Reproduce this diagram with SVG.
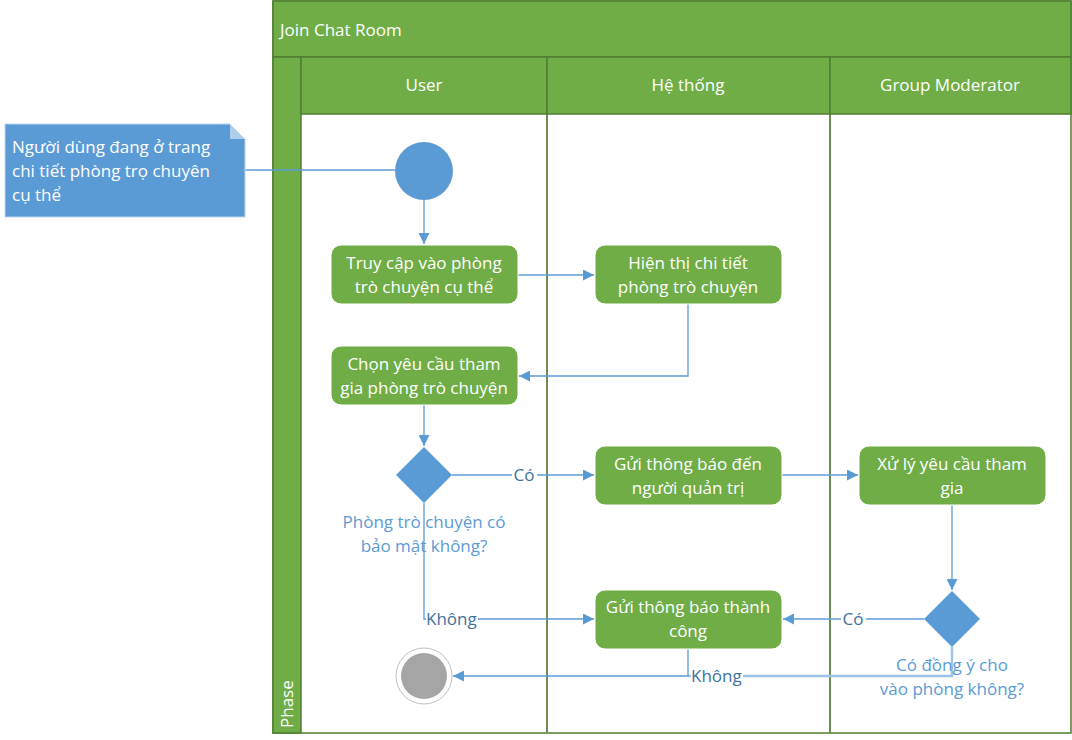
<svg xmlns="http://www.w3.org/2000/svg" width="1072" height="740" viewBox="0 0 1072 740">
<defs>
<style>
.t{font-family:"Open Sans","Liberation Sans",sans-serif;font-size:17px;}
.w{fill:#ffffff;}
.c{text-anchor:middle;}
.bl{fill:#5b9bd5;}
.lb{fill:#41719c;}
.box{fill:#70ad47;stroke:#ffffff;stroke-width:1;}
.hdr{fill:#70ad47;stroke:#507e32;stroke-width:1.5;}
.ln{fill:none;stroke:#5b9bd5;stroke-width:1.3;}
.lnt{fill:none;stroke:#9dc3e6;stroke-width:2.5;}
</style>
<marker id="ah" viewBox="0 0 10 10" refX="10" refY="5" markerWidth="11" markerHeight="11" markerUnits="userSpaceOnUse" orient="auto">
<path d="M0,0 L10,5 L0,10 z" fill="#5b9bd5"/>
</marker>
</defs>
<rect width="1072" height="740" fill="#ffffff"/>

<g id="pool">
<rect x="273" y="1" width="798" height="732" fill="#ffffff" stroke="#507e32" stroke-width="1.5"/>
<rect class="hdr" x="273" y="1" width="798" height="56"/>
<text class="t w" x="280" y="36">Join Chat Room</text>
<rect class="hdr" x="273" y="57" width="28" height="676"/>
<text class="t w" transform="translate(293,728) rotate(-90)">Phase</text>
</g>

<g id="lane-user">
<rect class="hdr" x="301" y="57" width="246" height="57"/>
<text class="t w c" x="424" y="91">User</text>
<line x1="547" y1="114" x2="547" y2="733" stroke="#6b8f4e" stroke-width="2"/>
</g>
<g id="lane-system">
<rect class="hdr" x="547" y="57" width="283" height="57"/>
<text class="t w c" x="688" y="91">Hệ thống</text>
<line x1="830" y1="114" x2="830" y2="733" stroke="#6b8f4e" stroke-width="2"/>
</g>
<g id="lane-moderator">
<rect class="hdr" x="830" y="57" width="241" height="57"/>
<text class="t w c" x="950" y="91">Group Moderator</text>
</g>

<g id="connectors">
<line class="ln" x1="245" y1="170" x2="395" y2="170"/>
<line class="ln" x1="424" y1="200" x2="424" y2="244" marker-end="url(#ah)"/>
<line class="ln" x1="518" y1="275" x2="594" y2="275" marker-end="url(#ah)"/>
<polyline class="ln" points="688,304 688,376 519,376" marker-end="url(#ah)"/>
<line class="ln" x1="424" y1="405" x2="424" y2="446" marker-end="url(#ah)"/>
<line class="ln" x1="452" y1="475" x2="594" y2="475" marker-end="url(#ah)"/>
<line class="ln" x1="782" y1="475" x2="858" y2="475" marker-end="url(#ah)"/>
<line class="ln" x1="952" y1="505" x2="952" y2="590" marker-end="url(#ah)"/>
<line class="ln" x1="924" y1="619" x2="783" y2="619" marker-end="url(#ah)"/>
<polyline class="ln" points="424,503 424,619 594,619" marker-end="url(#ah)"/>
<polyline class="lnt" points="952,647 952,676 688,676"/>
<polyline class="ln" points="688,649 688,676 453,676" marker-end="url(#ah)"/>
<rect x="512" y="464" width="25" height="21" fill="#ffffff"/>
<text class="t lb c" x="524" y="481">Có</text>
<rect x="841" y="608" width="25" height="21" fill="#ffffff"/>
<text class="t lb c" x="853" y="625">Có</text>
<rect x="426" y="608" width="52" height="21" fill="#ffffff"/>
<text class="t lb" x="426" y="625">Không</text>
<rect x="691" y="665" width="52" height="22" fill="#ffffff"/>
<text class="t lb" x="691" y="682">Không</text>
</g>

<g id="note">
<path d="M5,124 L230,124 L245,139 L245,217 L5,217 Z" fill="#5b9bd5" stroke="#bdd7ee" stroke-width="1"/>
<path d="M230,124 L245,139 L230,139 Z" fill="#ffffff" opacity="0.5"/>
<text class="t w" x="12" y="153">Người dùng đang ở trang</text>
<text class="t w" x="12" y="177">chi tiết phòng trọ chuyên</text>
<text class="t w" x="12" y="201">cụ thể</text>
</g>

<g id="start">
<circle cx="424" cy="171" r="29" fill="#5b9bd5"/>
</g>

<g id="n1">
<rect class="box" x="331" y="245" width="187" height="59" rx="10"/>
<text class="t w c" x="424" y="269">Truy cập vào phòng</text>
<text class="t w c" x="424" y="293">trò chuyện cụ thể</text>
</g>
<g id="n2">
<rect class="box" x="595" y="245" width="187" height="59" rx="10"/>
<text class="t w c" x="688" y="269">Hiện thị chi tiết</text>
<text class="t w c" x="688" y="293">phòng trò chuyện</text>
</g>
<g id="n3">
<rect class="box" x="331" y="346" width="187" height="59" rx="10"/>
<text class="t w c" x="424" y="370">Chọn yêu cầu tham</text>
<text class="t w c" x="424" y="394">gia phòng trò chuyện</text>
</g>
<g id="d1">
<polygon points="396,475 424,447 452,475 424,503" fill="#5b9bd5"/>
<text class="t bl c" x="424" y="528">Phòng trò chuyện có</text>
<text class="t bl c" x="424" y="552">bảo mật không?</text>
</g>
<g id="n4">
<rect class="box" x="595" y="446" width="187" height="59" rx="10"/>
<text class="t w c" x="688" y="470">Gửi thông báo đến</text>
<text class="t w c" x="688" y="494">người quản trị</text>
</g>
<g id="n5">
<rect class="box" x="859" y="446" width="187" height="59" rx="10"/>
<text class="t w c" x="952" y="470">Xử lý yêu cầu tham</text>
<text class="t w c" x="952" y="494">gia</text>
</g>
<g id="d2">
<polygon points="924,619 952,591 980,619 952,647" fill="#5b9bd5"/>
<text class="t bl c" x="952" y="671">Có đồng ý cho</text>
<text class="t bl c" x="952" y="695">vào phòng không?</text>
</g>
<g id="n6">
<rect class="box" x="595" y="590" width="187" height="59" rx="10"/>
<text class="t w c" x="688" y="613">Gửi thông báo thành</text>
<text class="t w c" x="688" y="637">công</text>
</g>
<g id="end">
<circle cx="424" cy="676" r="28" fill="#ffffff" stroke="#bfbfbf" stroke-width="1"/>
<circle cx="424" cy="676" r="23" fill="#a5a5a5"/>
</g>
</svg>
